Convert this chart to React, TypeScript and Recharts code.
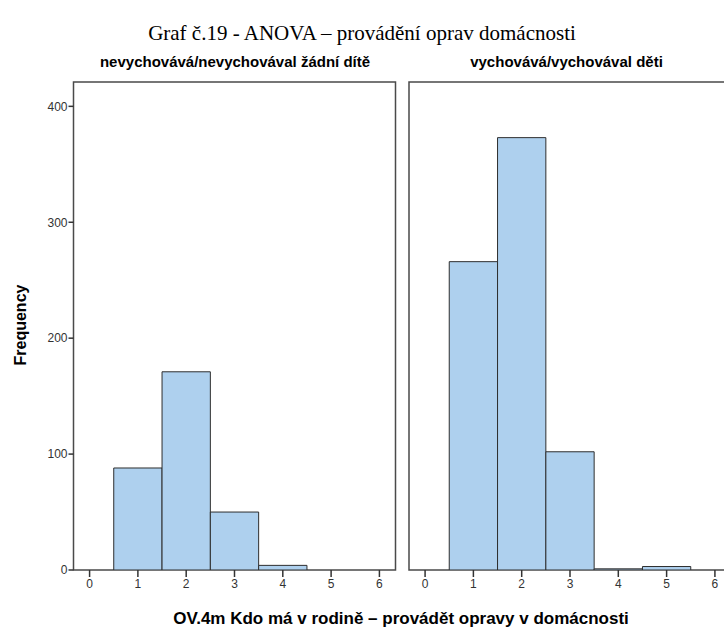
import { Bar, BarChart, ReferenceArea, XAxis, YAxis } from 'recharts';

// histogram bins (category codes) and frequencies per panel
const binCenters = [1, 2, 3, 4, 5];
const noChildCounts = [88, 171, 50, 4, 0];
const childCounts = [266, 373, 102, 1, 3];

const xTicks = [0, 1, 2, 3, 4, 5, 6];
const yTicks = [0, 100, 200, 300, 400];

const panelTitles = ['nevychovává/nevychovával žádní dítě', 'vychovává/vychovával děti'];

const X_MIN = -0.333;
const X_MAX = 6.333;
const Y_MAX = 421;
const PLOT_W = 322;
const PLOT_TOP = 82;
const PLOT_BOTTOM = 570;
const H = 628;
const BIN_PX = PLOT_W / (X_MAX - X_MIN);

const FONT = '"Liberation Sans", Arial, sans-serif';
const NARROW = '"Liberation Sans Narrow", "Arial Narrow", "Liberation Sans", sans-serif';
const FRAME = '#4a4a4a';
const tickStyle = { fontSize: 12, fill: '#333', fontFamily: FONT };

type PanelProps = {
  counts: number[];
  showY: boolean;
  left: number;
  marginLeft: number;
};

function Panel({ counts, showY, left, marginLeft }: Readonly<PanelProps>) {
  const data = binCenters.map((bin, i) => ({ bin, count: counts[i] }));
  const yW = showY ? 40 : 0;
  const width = marginLeft + yW + PLOT_W + 4;
  return (
    <div style={{ position: 'absolute', left, top: 0 }}>
      <BarChart
        width={width}
        height={H}
        data={data}
        margin={{ top: PLOT_TOP, right: 4, bottom: H - PLOT_BOTTOM - 30, left: marginLeft }}
        barCategoryGap={0}
      >
        <XAxis
          dataKey="bin"
          type="number"
          domain={[X_MIN, X_MAX]}
          ticks={xTicks}
          allowDataOverflow
          axisLine={false}
          tickLine={{ stroke: '#333', strokeWidth: 1.5 }}
          tickSize={7}
          tickMargin={2}
          height={30}
          tick={tickStyle}
          interval={0}
        />
        <YAxis
          hide={!showY}
          width={yW}
          domain={[0, Y_MAX]}
          ticks={yTicks}
          allowDataOverflow
          axisLine={false}
          tickLine={{ stroke: '#333', strokeWidth: 1.5 }}
          tickSize={5}
          tickMargin={1}
          tick={tickStyle}
          interval={0}
        />
        <Bar
          dataKey="count"
          fill="#aed0ee"
          stroke="#2e2e2e"
          strokeWidth={1}
          barSize={BIN_PX}
          isAnimationActive={false}
        />
        <ReferenceArea
          x1={X_MIN}
          x2={X_MAX}
          y1={0}
          y2={Y_MAX}
          fill="none"
          fillOpacity={0}
          stroke={FRAME}
          strokeWidth={1.5}
          ifOverflow="visible"
        />
      </BarChart>
    </div>
  );
}

export default function App() {
  return (
    <div
      style={{
        position: 'absolute',
        left: 0,
        top: 0,
        width: 724,
        height: H,
        overflow: 'hidden',
        background: '#fff',
      }}
    >
      <div
        style={{
          position: 'absolute',
          left: 0,
          top: 21,
          width: 724,
          textAlign: 'center',
          fontFamily: '"Liberation Serif", "Times New Roman", serif',
          fontSize: 21,
          color: '#000',
        }}
      >
        Graf č.19 - ANOVA – provádění oprav domácnosti
      </div>
      <Panel counts={noChildCounts} showY left={0} marginLeft={33.5} />
      <Panel counts={childCounts} showY={false} left={380} marginLeft={29} />
      {panelTitles.map((t, i) => (
        <div
          key={t}
          style={{
            position: 'absolute',
            left: i === 0 ? 74 : 409,
            top: 53,
            width: i === 0 ? 322 : 315,
            textAlign: 'center',
            fontFamily: NARROW,
            fontWeight: 'bold',
            fontSize: 15,
            color: '#000',
          }}
        >
          {t}
        </div>
      ))}
      <div
        style={{
          position: 'absolute',
          left: 21 - 60,
          top: 326 - 10,
          width: 120,
          textAlign: 'center',
          transform: 'rotate(-90deg)',
          fontFamily: FONT,
          fontWeight: 'bold',
          fontSize: 16,
          color: '#000',
        }}
      >
        Frequency
      </div>
      <div
        style={{
          position: 'absolute',
          left: 50,
          top: 609,
          width: 702,
          textAlign: 'center',
          fontFamily: FONT,
          fontWeight: 'bold',
          fontSize: 17,
          color: '#000',
        }}
      >
        OV.4m Kdo má v rodině – provádět opravy v domácnosti
      </div>
    </div>
  );
}
